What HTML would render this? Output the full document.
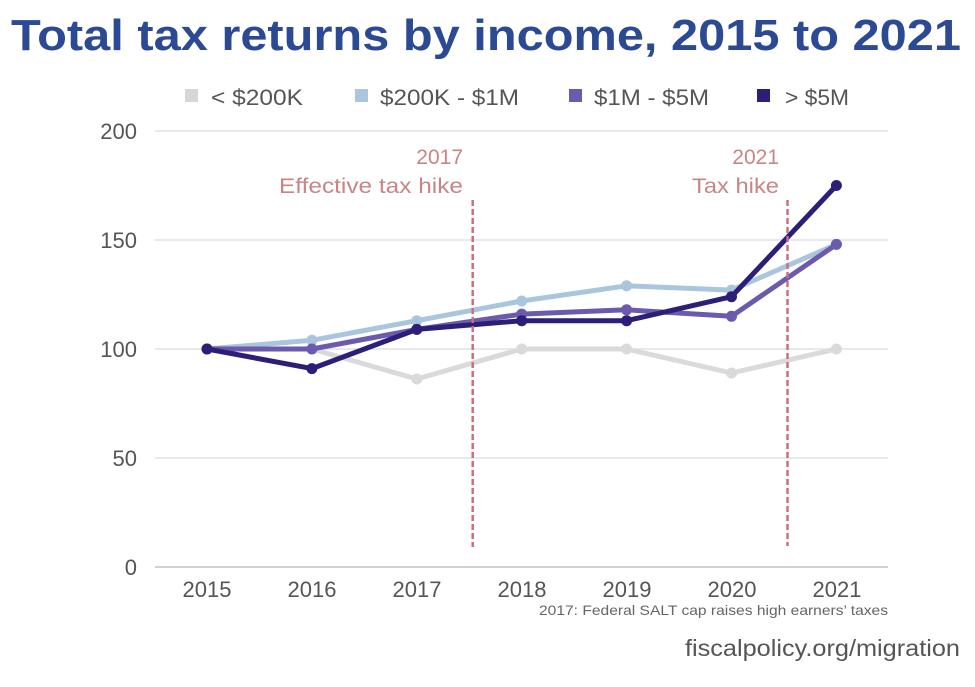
<!DOCTYPE html>
<html>
<head>
<meta charset="utf-8">
<style>
  html,body{margin:0;padding:0;background:#fff;}
  svg{display:block;}
  text{font-family:"Liberation Sans",sans-serif;}
</style>
</head>
<body>
<svg width="975" height="687" viewBox="0 0 975 687" xmlns="http://www.w3.org/2000/svg">
  <rect width="975" height="687" fill="#fff"/>
  <!-- Title -->
  <text x="11" y="50" font-size="44" font-weight="bold" fill="#2b4a93" textLength="950" lengthAdjust="spacingAndGlyphs">Total tax returns by income, 2015 to 2021</text>

  <!-- Legend -->
  <rect x="185" y="89" width="13" height="13" fill="#d6d6d6"/>
  <text x="211" y="105" font-size="22" fill="#555" textLength="92" lengthAdjust="spacingAndGlyphs">&lt; $200K</text>
  <rect x="355" y="89" width="13" height="13" fill="#a9c6de"/>
  <text x="380" y="105" font-size="22" fill="#555" textLength="139" lengthAdjust="spacingAndGlyphs">$200K - $1M</text>
  <rect x="569" y="89" width="13" height="13" fill="#6b5aae"/>
  <text x="594" y="105" font-size="22" fill="#555" textLength="115" lengthAdjust="spacingAndGlyphs">$1M - $5M</text>
  <rect x="757" y="89" width="13" height="13" fill="#2c1f78"/>
  <text x="785" y="105" font-size="22" fill="#555" textLength="64" lengthAdjust="spacingAndGlyphs">&gt; $5M</text>

  <!-- Gridlines -->
  <g stroke="#dde3e8" stroke-width="1.5">
    <line x1="155" y1="131" x2="888" y2="131"/>
    <line x1="155" y1="240" x2="888" y2="240"/>
    <line x1="155" y1="349" x2="888" y2="349"/>
    <line x1="155" y1="458" x2="888" y2="458"/>
  </g>
  <line x1="155" y1="567" x2="888" y2="567" stroke="#bfc3c7" stroke-width="1.5"/>

  <!-- Y labels -->
  <g font-size="22" fill="#555" text-anchor="end">
    <text x="137" y="139">200</text>
    <text x="137" y="248">150</text>
    <text x="137" y="357">100</text>
    <text x="137" y="466">50</text>
    <text x="137" y="575">0</text>
  </g>

  <!-- X labels -->
  <g font-size="22" fill="#555" text-anchor="middle">
    <text x="207" y="597">2015</text>
    <text x="312" y="597">2016</text>
    <text x="417" y="597">2017</text>
    <text x="522" y="597">2018</text>
    <text x="627" y="597">2019</text>
    <text x="732" y="597">2020</text>
    <text x="837" y="597">2021</text>
  </g>

  <!-- Annotations -->
  <g font-size="21" fill="#c98585" text-anchor="end">
    <text x="463" y="164">2017</text>
    <text x="463" y="193" textLength="184" lengthAdjust="spacingAndGlyphs">Effective tax hike</text>
    <text x="779" y="164">2021</text>
    <text x="779" y="193" textLength="87" lengthAdjust="spacingAndGlyphs">Tax hike</text>
  </g>

  <!-- Series: gray -->
  <g fill="#dadada">
    <polyline points="207,349 311.9,349 416.8,379 521.7,349 626.6,349 731.5,373 836.4,349" fill="none" stroke="#dadada" stroke-width="5" stroke-linejoin="round"/>
    <circle cx="207" cy="349" r="5.5"/><circle cx="311.9" cy="349" r="5.5"/><circle cx="416.8" cy="379" r="5.5"/>
    <circle cx="521.7" cy="349" r="5.5"/><circle cx="626.6" cy="349" r="5.5"/><circle cx="731.5" cy="373" r="5.5"/><circle cx="836.4" cy="349" r="5.5"/>
  </g>
  <!-- light blue -->
  <g fill="#a9c6de">
    <polyline points="207,349 311.9,340.3 416.8,320.7 521.7,301 626.6,285.8 731.5,290.1 836.4,244.4" fill="none" stroke="#a9c6de" stroke-width="5" stroke-linejoin="round"/>
    <circle cx="207" cy="349" r="5.5"/><circle cx="311.9" cy="340.3" r="5.5"/><circle cx="416.8" cy="320.7" r="5.5"/>
    <circle cx="521.7" cy="301" r="5.5"/><circle cx="626.6" cy="285.8" r="5.5"/><circle cx="731.5" cy="290.1" r="5.5"/><circle cx="836.4" cy="244.4" r="5.5"/>
  </g>
  <!-- purple -->
  <g fill="#6b5aae">
    <polyline points="207,349 311.9,349 416.8,329.4 521.7,314.1 626.6,309.8 731.5,316.3 836.4,244.4" fill="none" stroke="#6b5aae" stroke-width="5" stroke-linejoin="round"/>
    <circle cx="207" cy="349" r="5.5"/><circle cx="311.9" cy="349" r="5.5"/><circle cx="416.8" cy="329.4" r="5.5"/>
    <circle cx="521.7" cy="314.1" r="5.5"/><circle cx="626.6" cy="309.8" r="5.5"/><circle cx="731.5" cy="316.3" r="5.5"/><circle cx="836.4" cy="244.4" r="5.5"/>
  </g>
  <!-- dark -->
  <g fill="#2c1f78">
    <polyline points="207,349 311.9,368.6 416.8,329.4 521.7,320.7 626.6,320.7 731.5,296.7 836.4,185.5" fill="none" stroke="#2c1f78" stroke-width="5" stroke-linejoin="round"/>
    <circle cx="207" cy="349" r="5.5"/><circle cx="311.9" cy="368.6" r="5.5"/><circle cx="416.8" cy="329.4" r="5.5"/>
    <circle cx="521.7" cy="320.7" r="5.5"/><circle cx="626.6" cy="320.7" r="5.5"/><circle cx="731.5" cy="296.7" r="5.5"/><circle cx="836.4" cy="185.5" r="5.5"/>
  </g>

  <!-- Dashed lines -->
  <g stroke="#c9707a" stroke-width="2.5" stroke-dasharray="6 3">
    <line x1="472.7" y1="200" x2="472.7" y2="547"/>
    <line x1="787.5" y1="200" x2="787.5" y2="546"/>
  </g>

  <!-- Footnote -->
  <text x="888" y="615" font-size="14" fill="#666" text-anchor="end" textLength="349" lengthAdjust="spacingAndGlyphs">2017: Federal SALT cap raises high earners’ taxes</text>
  <text x="960" y="656" font-size="23" fill="#555" text-anchor="end" textLength="275" lengthAdjust="spacingAndGlyphs">fiscalpolicy.org/migration</text>
</svg>
</body>
</html>
